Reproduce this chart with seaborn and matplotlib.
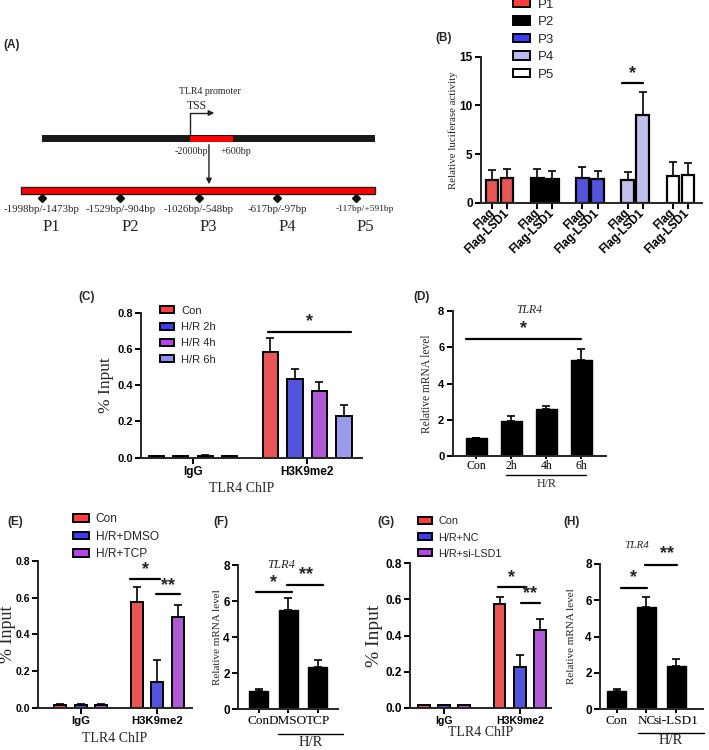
import numpy as np
import pandas as pd
import matplotlib
matplotlib.use('Agg')
import matplotlib.pyplot as plt
import seaborn as sns
from matplotlib.patches import Rectangle, Patch

sns.set_style('ticks')
plt.rcParams['font.family'] = ['Liberation Sans', 'DejaVu Sans']
SERIF = ['Liberation Serif', 'DejaVu Serif']

# ---------------- data ----------------
fragments = ['P1', 'P2', 'P3', 'P4', 'P5']
fragment_ranges = ['-1998bp/-1473bp', '-1529bp/-904bp', '-1026bp/-548bp',
                   '-617bp/-97bp', '-117bp/+591bp']

luc_vectors = ['Flag', 'Flag-LSD1']
luc_mean = [2.33, 2.53, 2.53, 2.47, 2.53, 2.40, 2.33, 9.00, 2.77, 2.84]
luc_err = [1.00, 0.90, 0.95, 0.80, 1.10, 0.85, 0.80, 2.40, 1.40, 1.25]
luc_colors = ['#ff3d3d', '#000000', '#3c3cf4', '#babaf2', '#ffffff']

chip_groups = ['IgG', 'H3K9me2']

c_conds = ['Con', 'H/R 2h', 'H/R 4h', 'H/R 6h']
c_mean = [0.010, 0.010, 0.012, 0.010, 0.581, 0.432, 0.366, 0.232]
c_err = [0.002, 0.002, 0.003, 0.002, 0.080, 0.055, 0.053, 0.057]
c_colors = ['#ff3d3d', '#3c3cf4', '#b845e8', '#8e8ef8']

d_labels = ['Con', '2h', '4h', '6h']
d_mean = [0.97, 1.91, 2.57, 5.29]
d_err = [0.05, 0.28, 0.18, 0.60]

e_conds = ['Con', 'H/R+DMSO', 'H/R+TCP']
e_mean = [0.015, 0.015, 0.015, 0.575, 0.142, 0.495]
e_err = [0.003, 0.010, 0.003, 0.085, 0.120, 0.063]

f_labels = ['Con', 'DMSO', 'TCP']
f_mean = [1.00, 5.50, 2.33]
f_err = [0.10, 0.67, 0.37]

g_conds = ['Con', 'H/R+NC', 'H/R+si-LSD1']
g_mean = [0.015, 0.015, 0.015, 0.572, 0.227, 0.431]
g_err = [0.003, 0.010, 0.003, 0.043, 0.066, 0.061]

h_labels = ['Con', 'NC', 'si-LSD1']
h_mean = [1.00, 5.61, 2.35]
h_err = [0.13, 0.55, 0.40]

chip_colors3 = ['#ff3d3d', '#3c3cf4', '#b845e8']

# ---------------- figure ----------------
W, H = 709, 750
fig = plt.figure(figsize=(W / 100, H / 100), dpi=100)


def add_ax(left, top, right, bottom):
    return fig.add_axes([left / W, 1 - bottom / H, (right - left) / W, (bottom - top) / H])


def style(ax, yticks, fmt, fs):
    ax.set_ylim(yticks[0], yticks[-1])
    ax.set_yticks(yticks)
    ax.set_yticklabels([fmt.format(t) for t in yticks], fontweight='bold', fontsize=fs)
    sns.despine(ax=ax)
    for s in ['left', 'bottom']:
        ax.spines[s].set_linewidth(1.4)
    ax.tick_params(width=1.4, length=4, pad=2, colors='black')


def err_bars(ax, xs, means, errs):
    ax.errorbar(xs, means, yerr=[np.zeros(len(errs)), errs], fmt='none', ecolor='black',
                elinewidth=1.2, capsize=3, capthick=1.2, zorder=1)


def sig(ax, marks, fs=13):
    for x1, x2, y, txt, tx, ty in marks:
        ax.plot([x1, x2], [y, y], color='black', lw=1.6, clip_on=False)
        ax.text(tx, ty, txt, ha='center', va='center', fontsize=fs, fontweight='bold')


def underline(ax, x1, x2, y, ty, fs):
    ax.plot([x1, x2], [y, y], color='black', lw=1.0, clip_on=False)
    ax.text((x1 + x2) / 2, ty, 'H/R', ha='center', va='center', fontsize=fs, family=SERIF)


def legend(ax, labels, colors, left, top, fs, spacing):
    handles = [Patch(facecolor=c, edgecolor='black', linewidth=1.4, label=l)
               for l, c in zip(labels, colors)]
    ax.legend(handles=handles, loc='upper left', bbox_to_anchor=(left / W, 1 - top / H),
              bbox_transform=fig.transFigure, frameon=False, fontsize=fs,
              handlelength=1.3, handleheight=0.6, handletextpad=0.6,
              labelspacing=spacing, borderpad=0, borderaxespad=0)


def chip_panel(ax, conds, means, errs, colors, width, gap):
    df = pd.DataFrame({'group': np.repeat(chip_groups, len(conds)),
                       'cond': conds * len(chip_groups), 'mean': means, 'err': errs})
    sns.barplot(data=df, x='group', y='mean', hue='cond', order=chip_groups,
                hue_order=conds, palette=colors, width=width, gap=gap,
                edgecolor='black', linewidth=1.4, errorbar=None, legend=False, ax=ax)
    bars = [b for c in list(ax.containers) for b in c]
    xs, ms, es = [], [], []
    for b in bars:
        xc = b.get_x() + b.get_width() / 2
        row = df[(df['group'] == chip_groups[int(round(xc))]) & np.isclose(df['mean'], b.get_height())].iloc[0]
        xs.append(xc); ms.append(row['mean']); es.append(row['err'])
    err_bars(ax, xs, ms, es)
    ax.set_ylabel('')
    ax.set_xlabel('')
    ax.set_xticks(range(len(chip_groups)))


def mrna_panel(ax, labels, means, errs, width):
    sns.barplot(x=labels, y=means, color='black', width=width, edgecolor='black',
                errorbar=None, ax=ax)
    err_bars(ax, range(len(labels)), means, errs)


# ---------------- (A) promoter scheme ----------------
axA = add_ax(0, 30, 400, 250)
axA.set_xlim(-0.535, 4.561)
axA.set_ylim(250, 30)
axA.axis('off')
axA.add_patch(Rectangle((0, 135), 4.24, 7, facecolor='#1a1a1a', edgecolor='none'))
axA.add_patch(Rectangle((1.885, 135.5), 0.548, 6, facecolor='#ff0000', edgecolor='none'))
axA.add_patch(Rectangle((-0.27, 187), 4.51, 6.5, facecolor='#ff0000', edgecolor='#222222', lw=1))
axA.plot([1.885, 1.885, 2.12], [135, 113, 113], color='#222222', lw=1)
axA.annotate('', xy=(2.23, 113), xytext=(2.1, 113),
             arrowprops=dict(arrowstyle='-|>', color='#222222', lw=1, mutation_scale=8))
axA.annotate('', xy=(2.127, 187), xytext=(2.127, 142),
             arrowprops=dict(arrowstyle='-|>', color='#222222', lw=1, mutation_scale=8))
axA.text(2.14, 92, 'TLR4 promoter', ha='center', va='center', fontsize=7, family=SERIF)
axA.text(1.97, 106, 'TSS', ha='center', va='center', fontsize=8.5, family=SERIF)
axA.text(1.9, 151, '-2000bp', ha='center', va='center', fontsize=7.3, family=SERIF)
axA.text(2.47, 151, '+600bp', ha='center', va='center', fontsize=7.3, family=SERIF)
for i, (frag, rng) in enumerate(zip(fragments, fragment_ranges)):
    axA.plot(i, 198.5, marker='D', color='#111111', ms=4.5)
    small = i == len(fragments) - 1
    axA.text(i + (0.12 if small else 0), 209, rng, ha='center', va='center',
             fontsize=6.8 if small else 7.8, family=SERIF)
    axA.text(i + 0.12, 227, frag, ha='center', va='center', fontsize=12, family=SERIF)

# ---------------- (B) luciferase ----------------
axB = add_ax(481, 56.7, 702, 202.7)
dfB = pd.DataFrame({'frag': np.repeat(fragments, len(luc_vectors)),
                    'vec': luc_vectors * len(fragments), 'mean': luc_mean, 'err': luc_err})
dfB['label'] = dfB['frag'] + ' ' + dfB['vec']
orderB = []
for k, frag in enumerate(fragments):
    orderB += [frag + ' ' + v for v in luc_vectors]
    if k < len(fragments) - 1:
        orderB.append('gap%d' % k)
sns.barplot(data=dfB, x='label', y='mean', hue='frag', order=orderB, hue_order=fragments,
            palette=luc_colors, dodge=False, width=0.82, edgecolor='black', linewidth=1.6,
            errorbar=None, legend=False, ax=axB)
xB = [orderB.index(l) for l in dfB['label']]
err_bars(axB, xB, dfB['mean'], dfB['err'])
style(axB, [0, 5, 10, 15], '{:g}', 8.5)
axB.set_xlim(-0.75, 13.95)
axB.set_xticks(xB)
axB.set_xticklabels(dfB['vec'], rotation=45, ha='right', va='center', rotation_mode='anchor',
                    fontweight='bold', fontsize=8.3)
axB.set_xlabel('')
axB.set_ylabel('Relative luciferase activity', family=SERIF, fontsize=7.8)
axB.yaxis.set_label_coords((458 - 481) / 221, 0.5)
sig(axB, [(8.6, 10.0, 12.3, '*', 9.3, 13.3)])
legend(axB, fragments, luc_colors, 513, -1.5, 9.5, 0.42)

# ---------------- (C) ChIP time course ----------------
axC = add_ax(141, 312.7, 362, 457.7)
chip_panel(axC, c_conds, c_mean, c_err, c_colors, 0.86, 0.38)
style(axC, [0, 0.2, 0.4, 0.6, 0.8], '{:.1f}', 8)
axC.set_xlim(-0.456, 1.48)
axC.set_xticklabels(chip_groups, fontweight='bold', fontsize=8.5)
axC.set_ylabel('% Input', family=SERIF, fontsize=12.5)
axC.yaxis.set_label_coords((114 - 141) / 221, 0.5)
axC.set_xlabel('TLR4 ChIP', family=SERIF, fontsize=10)
axC.xaxis.set_label_coords(0.457, -0.168)
sig(axC, [(0.655, 1.38, 0.693, '*', 1.02, 0.752)])
legend(axC, c_conds, c_colors, 160, 305.5, 8, 0.58)

# ---------------- (D) TLR4 mRNA time course ----------------
axD = add_ax(452.7, 311, 606, 456)
mrna_panel(axD, d_labels, d_mean, d_err, 0.6)
style(axD, [0, 2, 4, 6, 8], '{:g}', 8)
axD.set_xlim(-0.67, 3.71)
axD.set_xticks(range(len(d_labels)))
axD.set_xticklabels(d_labels, family=SERIF, fontsize=8.5)
axD.tick_params(axis='x', length=2.5, pad=0.5)
axD.set_ylabel('Relative mRNA level', family=SERIF, fontsize=8.3)
axD.yaxis.set_label_coords((433 - 452.7) / 153.3, 0.5)
axD.text(0.5, 1.01, 'TLR4', transform=axD.transAxes, ha='center', va='center',
         fontsize=8.5, style='italic', family=SERIF)
sig(axD, [(-0.29, 3.0, 6.48, '*', 1.355, 7.05)])
underline(axD, 0.857, 3.14, -1.05, -1.55, 8.6)

# ---------------- (E) ChIP TCP ----------------
axE = add_ax(37.7, 561, 192, 707.7)
chip_panel(axE, e_conds, e_mean, e_err, chip_colors3, 0.81, 0.42)
style(axE, [0, 0.2, 0.4, 0.6, 0.8], '{:.1f}', 7.5)
axE.tick_params(axis='y', pad=1.5)
axE.set_xlim(-0.56, 1.45)
axE.set_xticklabels(chip_groups, fontweight='bold', fontsize=8.2)
axE.set_ylabel('% Input', family=SERIF, fontsize=13)
axE.yaxis.set_label_coords((15.5 - 37.7) / 154.3, 0.5)
axE.set_xlabel('TLR4 ChIP', family=SERIF, fontsize=10)
axE.xaxis.set_label_coords(0.5, -0.166)
sig(axE, [(0.642, 1.03, 0.70, '*', 0.85, 0.752),
          (0.98, 1.29, 0.62, '**', 1.14, 0.668)])
legend(axE, e_conds, chip_colors3, 73, 513.5, 8.6, 0.45)

# ---------------- (F) TLR4 mRNA TCP ----------------
axF = add_ax(238, 565, 338, 709)
mrna_panel(axF, f_labels, f_mean, f_err, 0.64)
style(axF, [0, 2, 4, 6, 8], '{:g}', 8.5)
axF.set_xlim(-0.7, 2.69)
axF.set_xticks(range(len(f_labels)))
axF.set_xticklabels(f_labels, family=SERIF, fontsize=9.5)
axF.tick_params(axis='x', length=3, pad=1)
axF.set_ylabel('Relative mRNA level', family=SERIF, fontsize=8)
axF.yaxis.set_label_coords((222 - 238) / 100, 0.5)
axF.text(0.43, 1.0, 'TLR4', transform=axF.transAxes, ha='center', va='center',
         fontsize=9, style='italic', family=SERIF)
sig(axF, [(-0.09, 1.12, 6.5, '*', 0.52, 7.05),
          (0.96, 2.18, 6.9, '**', 1.6, 7.48)])
underline(axF, 0.65, 2.86, -1.39, -1.84, 10.5)

# ---------------- (G) ChIP si-LSD1 ----------------
axG = add_ax(410, 563, 551, 708)
chip_panel(axG, g_conds, g_mean, g_err, chip_colors3, 0.80, 0.42)
style(axG, [0, 0.2, 0.4, 0.6, 0.8], '{:.1f}', 8.5)
axG.set_xlim(-0.447, 1.41)
axG.set_xticklabels(chip_groups, fontweight='bold', fontsize=7.6)
axG.set_ylabel('% Input', family=SERIF, fontsize=14)
axG.yaxis.set_label_coords((383 - 410) / 141, 0.5)
axG.set_xlabel('TLR4 ChIP', family=SERIF, fontsize=10)
axG.xaxis.set_label_coords(0.5, -0.125)
sig(axG, [(0.707, 1.07, 0.669, '*', 0.89, 0.722),
          (1.02, 1.26, 0.578, '**', 1.14, 0.632)])
legend(axG, g_conds, chip_colors3, 418, 516.5, 7.8, 0.56)

# ---------------- (H) TLR4 mRNA si-LSD1 ----------------
axH = add_ax(600, 564, 703, 709)
mrna_panel(axH, h_labels, h_mean, h_err, 0.64)
style(axH, [0, 2, 4, 6, 8], '{:g}', 8.5)
axH.set_xlim(-0.56, 2.9)
axH.set_xticks(range(len(h_labels)))
axH.set_xticklabels(h_labels, family=SERIF, fontsize=9.5)
axH.tick_params(axis='x', length=3, pad=1)
axH.set_ylabel('Relative mRNA level', family=SERIF, fontsize=8)
axH.yaxis.set_label_coords((576 - 600) / 103, 0.5)
axH.text(0.36, 1.13, 'TLR4', transform=axH.transAxes, ha='center', va='center',
         fontsize=8, style='italic', family=SERIF)
sig(axH, [(0.15, 1.01, 6.68, '*', 0.58, 7.25),
          (0.95, 2.03, 7.96, '**', 1.7, 8.55)])
underline(axH, 0.72, 2.94, -1.33, -1.72, 10.5)

# ---------------- panel letters ----------------
for letter, x, y in [('(A)', 3, 45), ('(B)', 435, 38), ('(C)', 78, 297), ('(D)', 413, 297),
                     ('(E)', 7, 522), ('(F)', 213, 522), ('(G)', 377, 522), ('(H)', 563, 522)]:
    fig.text(x / W, 1 - y / H, letter, fontsize=8.5, fontweight='bold', ha='left', va='center')

fig.savefig('out.png', dpi=100)
